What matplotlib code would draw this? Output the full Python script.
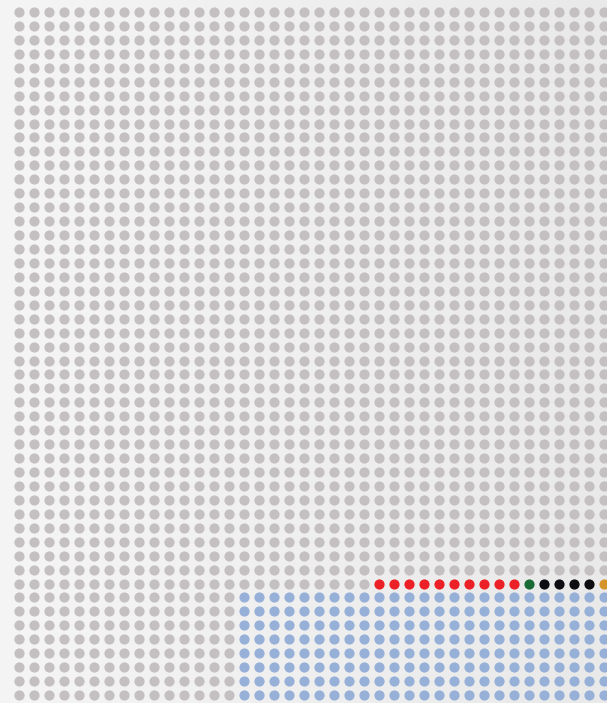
import numpy as np
import matplotlib.pyplot as plt
from matplotlib.colors import LinearSegmentedColormap

# grid of dots (cols x rows visible in the frame)
n_cols = 40
n_rows = 50

# highlighted row: category runs starting at column 24, row 41
special_row = 41
special_start = 24
special_labels = ['red', 'green', 'black', 'orange']
special_counts = [10, 1, 4, 1]

# blue block: rows 42-49, columns 15-39
blue_rows = [42, 43, 44, 45, 46, 47, 48, 49]
blue_start_col = 15

colors = {
    'grey': '#c4bfc0',
    'blue': '#97b0d8',
    'red': '#ec2127',
    'green': '#1a6b35',
    'black': '#0e0d12',
    'orange': '#d4942a',
}

# assign a category to each cell
cells = np.full((n_rows, n_cols), 'grey', dtype=object)
for r in blue_rows:
    cells[r, blue_start_col:] = 'blue'
c = special_start
for lab, cnt in zip(special_labels, special_counts):
    cells[special_row, c:c + cnt] = lab
    c += cnt

W, H = 607, 703
fig = plt.figure(figsize=(W / 100, H / 100), dpi=100)
ax = fig.add_axes([0, 0, 1, 1])

# pixel geometry of the grid
x0, dx = 19, 15.0
y0, dy = 12, 13.94
xlim = (-x0 / dx, (W - x0) / dx)
ylim = ((H - y0) / dy, -y0 / dy)

# soft horizontal background gradient
bg = LinearSegmentedColormap.from_list('bg', ['#f5f5f5', '#e9e9e9'])
ax.imshow(np.linspace(0, 1, 256).reshape(1, -1), cmap=bg, aspect='auto',
          extent=[xlim[0], xlim[1], ylim[0], ylim[1]], zorder=0)

rows, cols = np.indices(cells.shape)
for cat, col in colors.items():
    mask = cells == cat
    ax.scatter(cols[mask], rows[mask], s=54, color=col, linewidths=0, zorder=2)

ax.set_xlim(*xlim)
ax.set_ylim(*ylim)
ax.axis('off')
fig.savefig('out.png', dpi=100)
